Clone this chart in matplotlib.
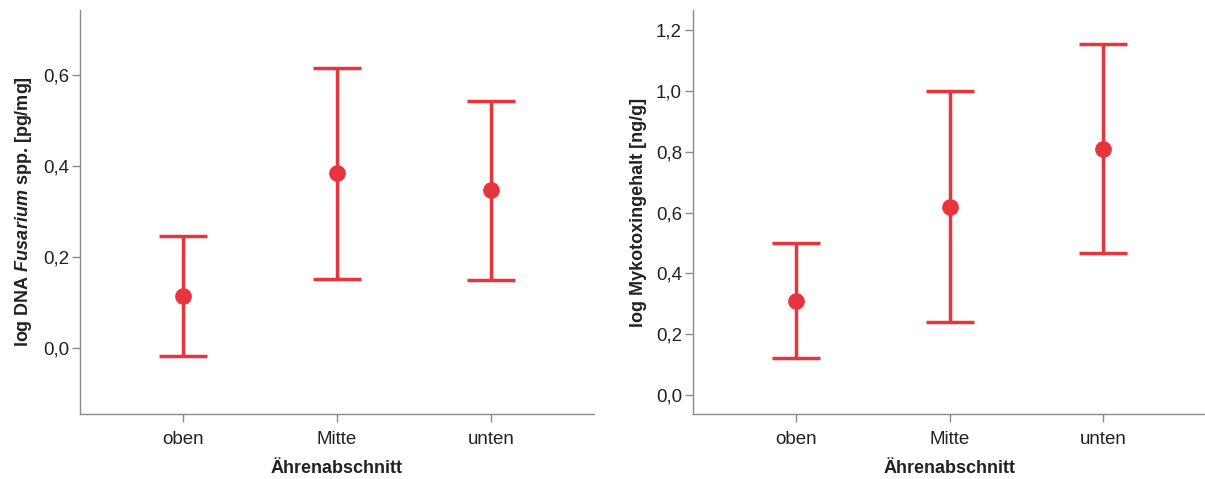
import matplotlib
matplotlib.use("Agg")
import matplotlib.pyplot as plt

plt.rcParams['font.family'] = ['Liberation Sans', 'DejaVu Sans']
plt.rcParams['mathtext.fontset'] = 'custom'
plt.rcParams['mathtext.it'] = 'Liberation Sans:italic:bold'
plt.rcParams['mathtext.rm'] = 'Liberation Sans:bold'

categories = ["oben", "Mitte", "unten"]

# log DNA Fusarium spp. [pg/mg]
dna_mean = [0.114, 0.385, 0.347]
dna_low = [-0.018, 0.152, 0.149]
dna_high = [0.246, 0.615, 0.543]

# log Mykotoxingehalt [ng/g]
myko_mean = [0.309, 0.618, 0.809]
myko_low = [0.122, 0.240, 0.467]
myko_high = [0.500, 1.000, 1.155]

red = '#e8343c'
grey = '#8a8a8a'

fig = plt.figure(figsize=(12.05, 4.79), dpi=100)
W, H = 1205, 479
ax1 = fig.add_axes([80 / W, 1 - 414 / H, (594 - 80) / W, (414 - 10) / H])
ax2 = fig.add_axes([693 / W, 1 - 414 / H, (1206 - 693) / W, (414 - 10) / H])


def draw(ax, mean, low, high, ylim, yticks, ylabel):
    x = list(range(1, len(categories) + 1))
    err = [[m - l for m, l in zip(mean, low)], [h - m for m, h in zip(mean, high)]]
    ax.errorbar(x, mean, yerr=err, fmt='o', color=red, ecolor=red,
                elinewidth=2.5, capsize=17, capthick=2.5, markersize=11)
    ax.set_xlim(1 - 103 / 154, 3 + 103 / 154)
    ax.set_ylim(*ylim)
    ax.set_xticks(x)
    ax.set_xticklabels(categories)
    ax.set_yticks(yticks)
    ax.set_yticklabels([f"{t:.1f}".replace('.', ',') for t in yticks])
    for s in ['top', 'right']:
        ax.spines[s].set_visible(False)
    for s in ['left', 'bottom']:
        ax.spines[s].set_color(grey)
        ax.spines[s].set_linewidth(1.0)
    ax.tick_params(axis='both', colors=grey, labelcolor='#222222', labelsize=13.5,
                   length=6, width=1.0, direction='out')
    ax.tick_params(axis='y', pad=2)
    ax.tick_params(axis='x', pad=6)
    ax.set_xlabel("Ährenabschnitt", fontsize=13, fontweight='bold', color='#222222', labelpad=9)
    ax.set_ylabel(ylabel, fontsize=13, fontweight='bold', color='#222222', labelpad=6)


draw(ax1, dna_mean, dna_low, dna_high, (-0.145, 0.743), [0.0, 0.2, 0.4, 0.6],
     "log DNA $\\mathit{Fusarium}$ spp. [pg/mg]")
draw(ax2, myko_mean, myko_low, myko_high, (-0.0625, 1.266), [0.0, 0.2, 0.4, 0.6, 0.8, 1.0, 1.2],
     "log Mykotoxingehalt [ng/g]")

fig.savefig("out.png", dpi=100)
